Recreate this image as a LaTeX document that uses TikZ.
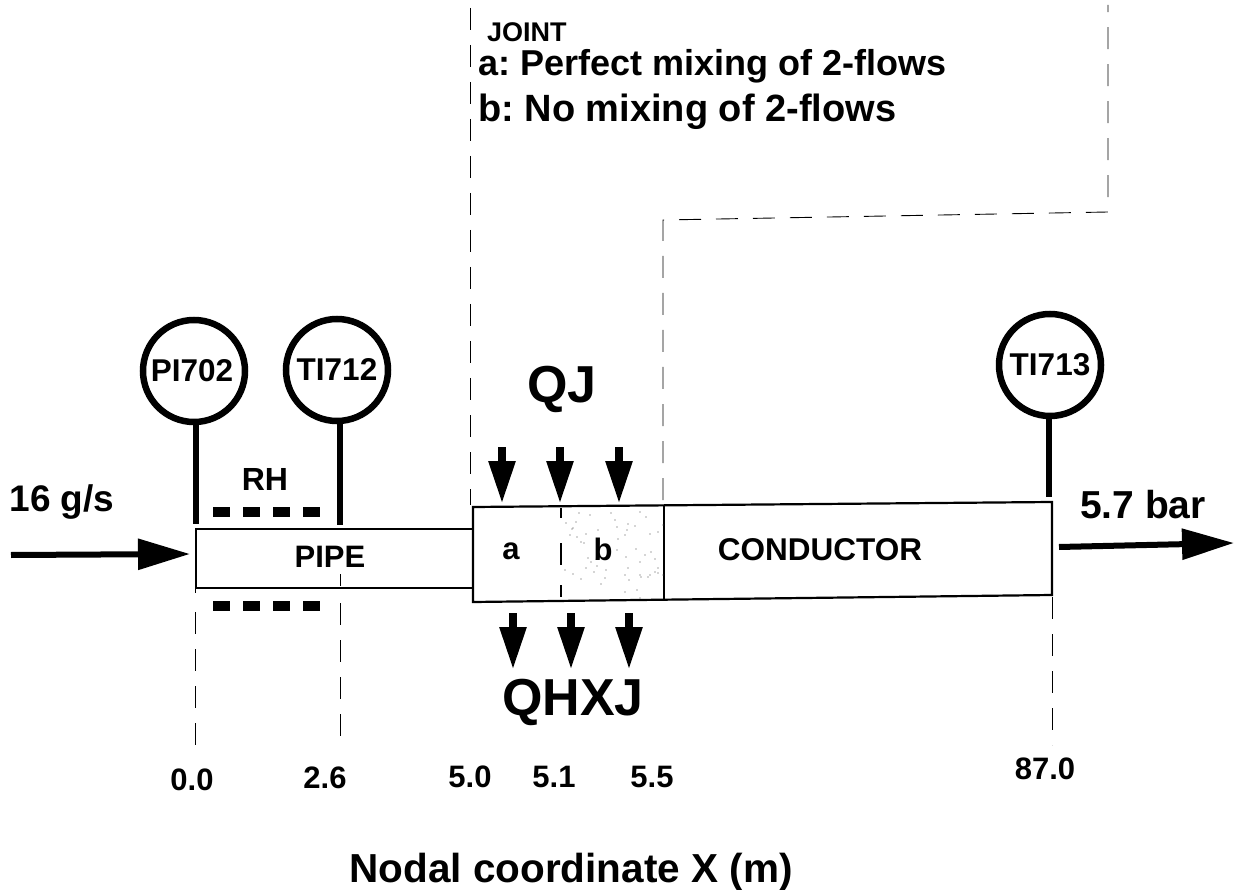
\documentclass[tikz,border=0pt]{standalone}
\usepackage{fontspec}
\setmainfont{Liberation Sans}[BoldFont={Liberation Sans Bold}]
\frenchspacing
\usetikzlibrary{arrows.meta}
\tikzset{
  px/.style={x=1pt,y=-1pt},
  lbl/.style={font=\bfseries\fontsize{#1}{#1}\selectfont,inner sep=0pt,anchor=center,text=black},
  gauge/.style={circle,draw=black,line width=6.5pt,minimum size=102pt,inner sep=0pt,font=\bfseries\fontsize{31.5}{31.5}\selectfont},
  stem/.style={line width=6pt},
  boxl/.style={draw=black,line width=1.7pt,fill=white},
  jointl/.style={draw=black,line width=2.2pt},
  guide/.style={draw=black,line width=0.9pt,dash pattern=on 22pt off 15pt},
  rhdash/.style={line width=10pt,dash pattern=on 17pt off 13pt},
  flow/.style={line width=6pt,-{Triangle[length=52pt,width=30pt]}},
  heat/.style={line width=8.5pt,-{Triangle[length=43pt,width=25pt]}},
}
\begin{document}
\begin{tikzpicture}[px]
\useasboundingbox (0,0) rectangle (1234,890);
% guides
\coordinate (jt) at (470,8);
\coordinate (jb) at (470,505);
\coordinate (kb) at (663,500);
\coordinate (kc) at (663,220);
\coordinate (kd) at (1108,212);
\coordinate (ke) at (1108,5);
\draw[guide] (jt) -- (jb);
\draw[guide] (kb) -- (kc) -- (kd) -- (ke);
% boxes
\node[boxl,minimum width=279pt,minimum height=59pt,inner sep=0pt,anchor=north west] (pipe) at (195,528) {};
\draw[jointl,fill=white] (473,507) -- (1052,502) -- (1052,595) -- (473,602) -- cycle;
\draw[black,line width=1.6pt] (561,508) -- (561,518) (561,543) -- (561,565) (561,585) -- (561,597);
\draw[black,line width=1.6pt] (664,505) -- (664,600);
\foreach \x/\y in {579/513,590/515,611/513,640/512,576/522,573/528,615/520,646/517,586/534,598/530,635/526,628/524,627/530,617/527,566/523,572/529,570/535,577/537,581/542,584/543,618/539,625/535,650/534,658/532,663/525,617/550,636/549,645/555,651/552,655/559,588/558,591/562,597/566,606/570,626/557,640/562,658/568,625/575,628/568,629/580,640/575,648/577,655/572,663/575,565/570,573/574,581/579,601/584,625/592,641/577,637/590,658/573,650/575,586/568,594/572,640/598,605/578}
  \fill[black!70] (\x,\y) circle (0.65pt);
% gauges
\node[gauge] (g1) at (194,371) {\hspace{-4pt}PI702};
\node[gauge] (g2) at (337,370) {TI712};
\node[gauge] (g3) at (1050,365) {TI713};
\coordinate (s1) at (196,524);
\coordinate (s2) at (340,525);
\coordinate (s3) at (1049,497);
\draw[stem] (s1 |- g1.south) -- (s1);
\draw[stem] (s2 |- g2.south) -- (s2);
\draw[stem] (s3 |- g3.south) -- (s3);
% rh
\coordinate (ra) at (213,512);
\coordinate (rb) at (320,512);
\coordinate (rc) at (213,606);
\coordinate (rd) at (320,606);
\draw[rhdash] (ra) -- (rb);
\draw[rhdash] (rc) -- (rd);
% lower guides
\draw[guide] (195,588) -- (195,593) (195,612) -- (195,745);
\draw[guide] (340,574) -- (340,586) (340,603) -- (340,745);
\draw[guide] (1052,597) -- (1052,745);
% flows
\coordinate (fa) at (11,555);
\coordinate (fb) at (190,554);
\coordinate (fc) at (1059,547);
\coordinate (fd) at (1234,543);
\draw[flow] (fa) -- (fb);
\draw[flow] (fc) -- (fd);
% heat arrows
\foreach \n/\x in {a/502,b/560,c/619}{
  \coordinate (qt\n) at (\x,447);
  \coordinate (qb\n) at (\x,504);
  \draw[heat] (qt\n) -- (qb\n);
}
\foreach \n/\x in {a/513,b/571,c/629}{
  \coordinate (ht\n) at (\x,613);
  \coordinate (hb\n) at (\x,670);
  \draw[heat] (ht\n) -- (hb\n);
}
% labels
\node[lbl=27,anchor=west] (l0) at (487,32) {JOINT};
\node[lbl=36,anchor=west] (l1) at (478,66) {a: Perfect mixing of 2-flows};
\node[lbl=38,anchor=west] (l2) at (478,112) {b: No mixing of 2-flows};
\node[lbl=52] (qj) at (562,389) {QJ};
\node[lbl=52] (qh) at (573,702) {QHXJ};
\node[lbl=37] (mf) at (62,502) {16 g/s};
\node[lbl=39] (pr) at (1143,505) {5.7 bar};
\node[lbl=32] (rh) at (265,479) {RH};
\node[lbl=31] (pi) at (330,557) {PIPE};
\node[lbl=31] (a) at (511,551) {a};
\node[lbl=31] (b) at (603,549) {b};
\node[lbl=31.5] (co) at (820,550) {CONDUCTOR};
\node[lbl=31] (x0) at (192,780) {0.0};
\node[lbl=31] (x1) at (325,778) {2.6};
\node[lbl=31] (x2) at (470,777) {5.0};
\node[lbl=31] (x3) at (554,777) {5.1};
\node[lbl=31] (x4) at (652,777) {5.5};
\node[lbl=31] (x5) at (1045,769) {87.0};
\node[lbl=40.5] (xl) at (571,872) {Nodal coordinate X (m)};
\end{tikzpicture}
\end{document}
